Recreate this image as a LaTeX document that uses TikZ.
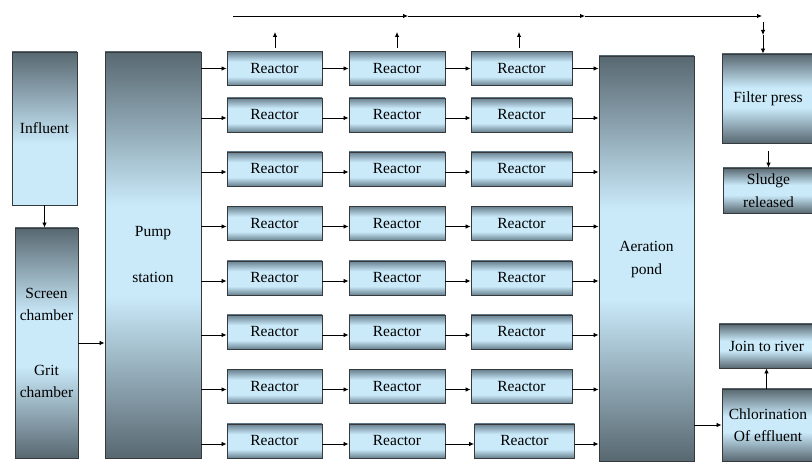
\documentclass[tikz,border=0pt]{standalone}
\usepackage{fontspec}
\setmainfont{Liberation Serif}
\newfontfamily\tnr{Liberation Serif}
\usetikzlibrary{arrows.meta}
\definecolor{dk}{RGB}{88,104,113}
\definecolor{md}{RGB}{104,128,142}
\definecolor{lt}{RGB}{202,234,250}
\definecolor{bd}{RGB}{55,58,60}
\pgfdeclareverticalshading{shtall}{100bp}{color(0bp)=(dk); color(25bp)=(dk); color(45bp)=(lt); color(56bp)=(lt); color(75bp)=(dk); color(100bp)=(dk)}
\pgfdeclareverticalshading{shrea}{100bp}{color(0bp)=(md); color(25bp)=(md); color(38bp)=(lt); color(60bp)=(lt); color(75bp)=(md); color(100bp)=(md)}
\pgfdeclareverticalshading{shinf}{100bp}{color(0bp)=(lt); color(25bp)=(lt); color(45bp)=(lt); color(75bp)=(dk); color(100bp)=(dk)}
\tikzset{
  blk/.style={draw=bd, line width=0.9pt, inner sep=0pt, align=center,
    font=\tnr\fontsize{15.5}{22.5}\selectfont},
  tall/.style={blk, shading=shtall},
  rea/.style={blk, shading=shrea, minimum height=34pt},
  arr/.style={line width=0.8pt, -{Latex[length=5pt,width=4.5pt]}}
}
\begin{document}
\begin{tikzpicture}[x=1pt,y=-1pt]
\useasboundingbox (0,0) rectangle (812,462);
\fill[white] (0,0) rectangle (812,462);
% left boxes
\node[blk, shading=shinf, minimum width=65pt, minimum height=153pt] (inf) at (44.5,128.5) {Influent};
\node[tall, minimum width=63pt, minimum height=230pt] (scr) at (46.5,343) {Screen\\chamber\\[32pt]Grit\\chamber};
\node[tall, minimum width=96pt, minimum height=406pt] (pump) at (153,255) {Pump\\[23.5pt]station};
\node[tall, minimum width=95pt, minimum height=405pt] (aer) at (646.5,258.5) {\raisebox{-3.5pt}{\begin{tabular}{@{}c@{}}Aeration\\pond\end{tabular}}};
% right boxes
\node[tall, minimum width=92pt, minimum height=89pt] (fp) at (768,98.5) {Filter press};
\node[tall, minimum width=91pt, minimum height=45pt] (sl) at (768.5,190.5) {Sludge\\released};
\node[tall, minimum width=95pt, minimum height=44pt] (jr) at (766.5,346) {Join to river};
\node[tall, minimum width=92pt, minimum height=72pt] (ch) at (768,425) {Chlorination\\Of effluent};
% reactors
\foreach \r/\y/\o in {1/68.5/0, 2/115/-3, 3/169/-3, 4/223.5/-3, 5/278/-3, 6/332/-3, 7/386.5/-3, 8/441/-3}{
  \node[rea, minimum width=95pt] (r\r a) at (274.5,\y) {Reactor};
  \node[rea, minimum width=96pt] (r\r b) at (397,\y) {Reactor};
  \ifnum\r=8
    \node[rea, minimum width=100pt] (r\r c) at (524.5,\y) {Reactor};
  \else
    \node[rea, minimum width=101pt] (r\r c) at (521.5,\y) {Reactor};
  \fi
  \draw[arr] ([yshift=\o pt]r\r a.west -| pump.east) -- ([yshift=\o pt]r\r a.west);
  \draw[arr] ([yshift=\o pt]r\r a.east) -- ([yshift=\o pt]r\r b.west);
  \draw[arr] ([yshift=\o pt]r\r b.east) -- ([yshift=\o pt]r\r c.west);
  \draw[arr] ([yshift=\o pt]r\r c.east) -- ([yshift=\o pt]r\r c.east -| aer.west);
}
% flow connectors
\draw[arr] (inf.south) -- (inf.south |- scr.north);
\draw[arr] (scr.east) -- (scr.east -| pump.west);
\draw[arr] (aer.east |- ch.west) -- (ch.west);
\draw[arr] (fp.south -| sl.north) ++(0,8) coordinate (fs) -- (sl.north);
\draw[arr] (ch.north -| jr.south) -- (jr.south);
% sludge line on top
\coordinate (t0) at (233,16);
\coordinate (t1) at (408,16);
\coordinate (t2) at (585,16);
\coordinate (t3) at (762,16);
\coordinate (v0) at (763,22);
\coordinate (v1) at (763,35);
\draw[arr] (t0) -- (t1);
\draw[arr] (t1) -- (t2);
\draw[arr] (t2) -- (t3);
\draw[arr] (v0) -- (v1);
\draw[arr] (v1) -- (v1 |- fp.north);
\foreach \c/\x in {a/275, b/397, c/519}{
  \coordinate (u\c) at (\x,32);
  \draw[arr] (\x,48) -- (u\c);
}
\end{tikzpicture}
\end{document}
